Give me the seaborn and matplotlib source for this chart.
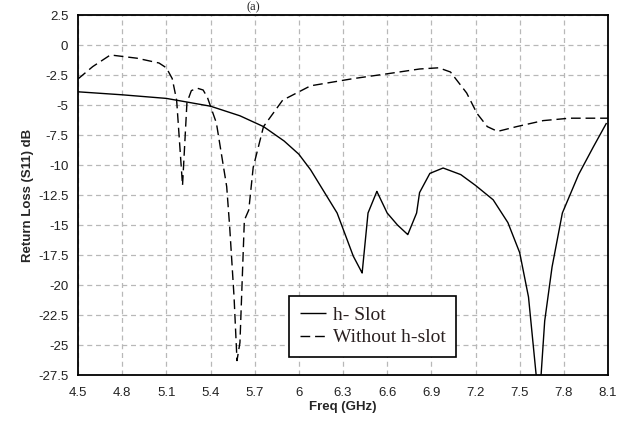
import numpy as np
import pandas as pd
import matplotlib
matplotlib.use("Agg")
import matplotlib.pyplot as plt
import seaborn as sns

# h-Slot curve (solid)
slot_freq = [4.5, 4.8, 5.1, 5.4, 5.6, 5.76, 5.9, 6.0, 6.08, 6.17, 6.26, 6.37, 6.43,
             6.47, 6.53, 6.6, 6.67, 6.74, 6.8, 6.82, 6.89, 6.98, 7.1, 7.2, 7.32,
             7.42, 7.5, 7.56, 7.6, 7.62, 7.64, 7.67, 7.72, 7.79, 7.9, 8.0, 8.09]
slot_rl = [-3.9, -4.15, -4.45, -5.1, -5.9, -6.8, -8.0, -9.1, -10.4, -12.2, -14.0, -17.6, -19.0,
           -14.0, -12.2, -14.0, -15.0, -15.8, -14.0, -12.3, -10.7, -10.25, -10.8, -11.7, -12.9,
           -14.8, -17.3, -21.0, -26.0, -28.5, -28.5, -23.0, -18.5, -14.0, -10.8, -8.5, -6.5]

# without h-slot curve (dashed)
noslot_freq = [4.5, 4.6, 4.72, 4.9, 5.05, 5.1, 5.14, 5.17, 5.21, 5.24, 5.27, 5.31, 5.35,
               5.38, 5.44, 5.51, 5.53, 5.56, 5.58, 5.6, 5.63, 5.66, 5.69, 5.76, 5.89,
               6.08, 6.37, 6.6, 6.82, 6.95, 7.03, 7.14, 7.21, 7.28, 7.35, 7.48, 7.66,
               7.84, 8.1]
noslot_rl = [-2.83, -1.8, -0.83, -1.1, -1.5, -1.9, -2.8, -4.6, -11.7, -4.8, -3.8, -3.6, -3.75,
             -4.4, -6.5, -11.8, -15.1, -21.0, -26.3, -24.8, -14.6, -13.75, -10.2, -6.8, -4.6,
             -3.4, -2.8, -2.4, -2.0, -1.9, -2.25, -4.0, -5.7, -6.8, -7.2, -6.8, -6.3,
             -6.1, -6.1]

x_ticks = [4.5, 4.8, 5.1, 5.4, 5.7, 6, 6.3, 6.6, 6.9, 7.2, 7.5, 7.8, 8.1]
y_ticks = [2.5, 0, -2.5, -5, -7.5, -10, -12.5, -15, -17.5, -20, -22.5, -25, -27.5]

df = pd.concat([
    pd.DataFrame({"freq": slot_freq, "rl": slot_rl, "series": "h- Slot"}),
    pd.DataFrame({"freq": noslot_freq, "rl": noslot_rl, "series": "Without h-slot"}),
])

sns.set_style("white")
plt.rcParams["font.family"] = ["Liberation Sans", "DejaVu Sans"]

fig = plt.figure(figsize=(6.2, 4.26), dpi=100)
ax = fig.add_axes([78 / 620, 1 - 375 / 426, 530 / 620, 360 / 426])

sns.lineplot(data=df, x="freq", y="rl", hue="series", style="series",
             palette=["black", "black"], dashes=[(1, 0), (7, 3.5)],
             estimator=None, sort=False, linewidth=1.0, ax=ax)

ax.set_xlim(4.5, 8.1)
ax.set_ylim(-27.5, 2.5)
ax.set_xticks(x_ticks)
ax.set_xticklabels([str(t) for t in x_ticks])
ax.set_yticks(y_ticks)
ax.set_yticklabels([("%g" % t) for t in y_ticks])
ax.tick_params(length=0, labelsize=9.5, colors="#222222")
ax.tick_params(axis="x", pad=9)
ax.tick_params(axis="y", pad=7)
ax.grid(True, color="#b8b8b8", linestyle=(0, (4, 3)), linewidth=0.9)
for s in ax.spines.values():
    s.set_color("black")
    s.set_linewidth(1.3)

ax.set_xlabel("Freq (GHz)", fontsize=9.5, fontweight="bold", labelpad=1)
ax.set_ylabel("Return Loss (S11) dB", fontsize=9.5, fontweight="bold", labelpad=3)

leg = ax.legend(loc="lower left", bbox_to_anchor=((289 - 78) / 530, (375 - 357) / 360),
                frameon=True, fancybox=False, handlelength=1.35, handletextpad=0.35,
                borderpad=0.55, labelspacing=0.25, borderaxespad=0,
                prop={"family": "Liberation Serif", "size": 14})
leg.get_frame().set_edgecolor("black")
leg.get_frame().set_linewidth(1.2)
leg.get_frame().set_alpha(1)
for t in leg.get_texts():
    t.set_color("#2a2020")

fig.text(253 / 620, 0.998, "(a)", ha="center", va="top", fontsize=9,
         family="Liberation Serif")

fig.savefig("out.png", dpi=100)
